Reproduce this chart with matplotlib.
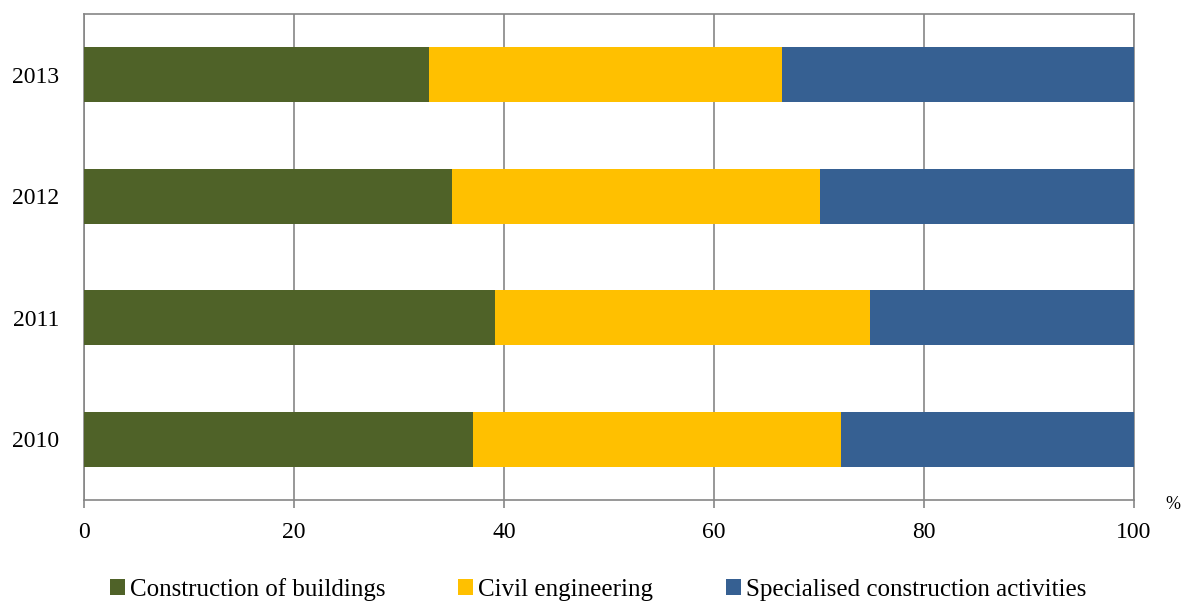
import matplotlib.pyplot as plt
import numpy as np

plt.rcParams['font.family'] = ['Liberation Serif', 'DejaVu Serif']

# === Data (shares, %) ===
years = ["2010", "2011", "2012", "2013"]
buildings = [37.0, 39.1, 35.0, 32.9]
civil = [35.1, 35.8, 35.1, 33.6]
specialised = [27.9, 25.1, 29.9, 33.5]
series_names = ["Construction of buildings", "Civil engineering",
                "Specialised construction activities"]
colors = ["#4F6228", "#FFC000", "#366092"]

fig = plt.figure(figsize=(11.82, 6.02), dpi=100)
ax = fig.add_axes([0.0711, 0.1694, 0.8883, 0.8073])

y = np.arange(len(years))
left = np.zeros(len(years))
for vals, name, col in zip([buildings, civil, specialised], series_names, colors):
    ax.barh(y, vals, left=left, height=0.45, color=col, label=name, zorder=3)
    left = left + np.array(vals)

ax.set_xlim(0, 100)
ax.set_ylim(-0.5, 3.5)
ax.set_xticks(range(0, 101, 20))
ax.set_yticks(y)
ax.set_yticklabels(years)
ax.grid(axis="x", color="#868686", linewidth=1.2, zorder=0)
for s in ax.spines.values():
    s.set_color("#868686")
    s.set_linewidth(1.2)
ax.tick_params(axis="x", length=6, width=1.2, color="#868686", labelsize=17, pad=10)
ax.tick_params(axis="y", length=0, labelsize=17, pad=18)

fig.text(0.9985, 0.162, "%", fontsize=13, ha="right", va="center")

fig.legend(loc="lower center", bbox_to_anchor=(0.506, -0.035), ncol=3, frameon=False,
           fontsize=18, handlelength=0.6, handleheight=0.6, handletextpad=0.2,
           columnspacing=2.9)

plt.savefig("out.png", dpi=100)
